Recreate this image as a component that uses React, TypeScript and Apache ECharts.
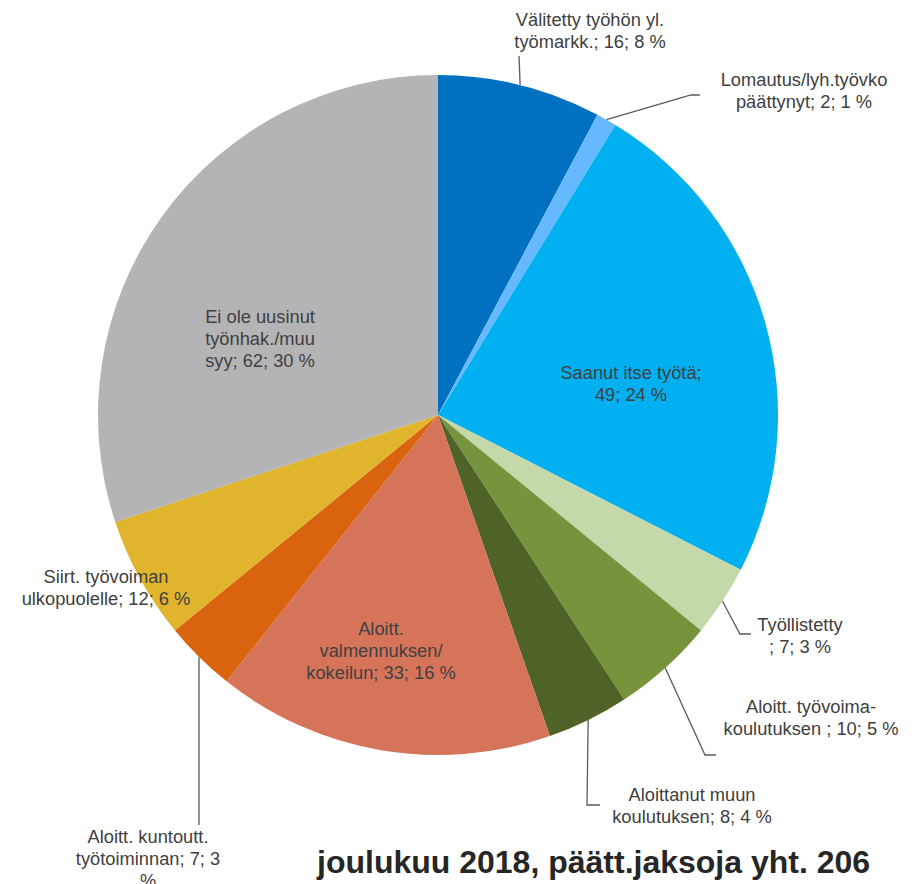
import React, { useEffect, useRef } from "react";
import * as echarts from "echarts";

const categories = [
  "Välitetty työhön yl. työmarkk.",
  "Lomautus/lyh.työvko päättynyt",
  "Saanut itse työtä",
  "Työllistetty",
  "Aloitt. työvoima-koulutuksen",
  "Aloittanut muun koulutuksen",
  "Aloitt. valmennuksen/kokeilun",
  "Aloitt. kuntoutt. työtoiminnan",
  "Siirt. työvoiman ulkopuolelle",
  "Ei ole uusinut työnhak./muu syy",
];
const counts = [16, 2, 49, 7, 10, 8, 33, 7, 12, 62];
const colors = [
  "#0070C0", "#66B9FF", "#00B0F0", "#C4D8A9", "#77933C",
  "#4F6228", "#D6745A", "#DA6310", "#E0B42D", "#B4B4B6",
];
const labelTemplates = [
  "Välitetty työhön yl.\ntyömarkk.; {c}; {d} %",
  "Lomautus/lyh.työvko\npäättynyt; {c}; {d} %",
  "Saanut itse työtä;\n{c}; {d} %",
  "Työllistetty\n; {c}; {d} %",
  "Aloitt. työvoima-\nkoulutuksen ; {c}; {d} %",
  "Aloittanut muun\nkoulutuksen; {c}; {d} %",
  "Aloitt.\nvalmennuksen/\nkokeilun; {c}; {d} %",
  "Aloitt. kuntoutt.\ntyötoiminnan; {c}; {d}\n%",
  "Siirt. työvoiman\nulkopuolelle; {c}; {d} %",
  "Ei ole uusinut\ntyönhak./muu\nsyy; {c}; {d} %",
];
const titleText = "joulukuu 2018, päätt.jaksoja yht. 206";

// label layout (label centre, leader line bend/end points)
type LL = { x: number; y: number; line?: number[][]; start?: number[] };
const labelLayouts: LL[] = [
  { x: 590, y: 30, line: [[519, 56]] },
  { x: 804, y: 90, line: [[691, 95], [700, 95]] },
  { x: 631, y: 383 },
  { x: 800, y: 635, line: [[740, 634], [751, 634]] },
  { x: 811, y: 717, line: [[705, 755], [716, 755]] },
  { x: 692, y: 805, line: [[587, 805], [600, 805]] },
  { x: 381, y: 650 },
  { x: 148, y: 858, start: [199, 657], line: [[199, 825]] },
  { x: 106, y: 587 },
  { x: 260, y: 338 },
];

export default function App() {
  const ref = useRef<HTMLDivElement>(null);
  useEffect(() => {
    if (!ref.current) return;
    const chart = echarts.init(ref.current, null, { renderer: "svg" });
    const data = categories.map((name, i) => ({
      name,
      value: counts[i],
      itemStyle: { color: colors[i] },
      label: { formatter: labelTemplates[i] },
      labelLine: { show: !!labelLayouts[i].line },
    }));
    chart.setOption({
      animation: false,
      backgroundColor: "#ffffff",
      title: {
        text: titleText,
        left: 317,
        top: 844,
        padding: 0,
        textStyle: {
          fontSize: 32,
          fontWeight: "bold",
          color: "#262626",
          fontFamily: "Liberation Sans, Arial, sans-serif",
          lineHeight: 36,
        },
      },
      series: [
        {
          type: "pie",
          center: [438, 415],
          radius: 340,
          startAngle: 90,
          clockwise: true,
          percentPrecision: 0,
          avoidLabelOverlap: false,
          data,
          label: {
            show: true,
            position: "outside",
            fontSize: 18.3,
            lineHeight: 22,
            color: "#404040",
            fontFamily: "Liberation Sans, Arial, sans-serif",
            align: "center",
          },
          labelLine: {
            show: true,
            lineStyle: { color: "#5a5a5a", width: 1.3 },
          },
          emphasis: { disabled: true },
          labelLayout: (params: any) => {
            const L = labelLayouts[params.dataIndex];
            const res: any = {
              x: L.x,
              y: L.y,
              align: "center",
              verticalAlign: "middle",
            };
            if (L.line) {
              const s =
                L.start ||
                (params.labelLinePoints ? params.labelLinePoints[0] : L.line[0]);
              res.labelLinePoints = [s, ...L.line, ...(L.line.length === 1 ? [L.line[0]] : [])];
            }
            return res;
          },
        },
      ],
    });
    return () => chart.dispose();
  }, []);
  return (
    <div
      ref={ref}
      style={{ position: "fixed", left: 0, top: 0, width: 912, height: 884 }}
    />
  );
}
